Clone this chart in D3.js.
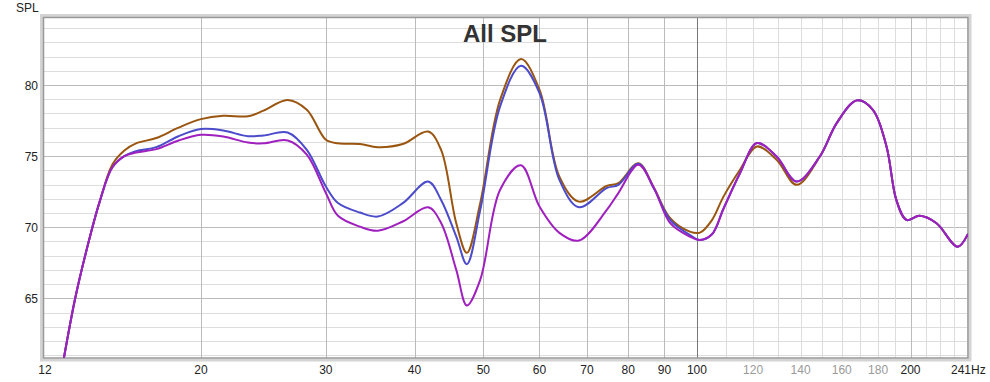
<!DOCTYPE html>
<html>
<head>
<meta charset="utf-8">
<script src="https://cdn.jsdelivr.net/npm/d3@7"></script>
<style>
  body { margin: 0; background: #fff; }
  svg text { font-family: "Liberation Sans", Arial, sans-serif; }
</style>
</head>
<body>
<div id="chart"></div>
<script>
// frequencies (Hz), shared by all three traces
var freqs = [12.8, 13.3, 13.8, 14.4, 15.0, 15.6, 16.2, 17.3, 18.6, 20, 21.5, 23.3, 24.5, 26.5, 28.2, 30, 31.2,
  33.5, 35.5, 38.5, 41.8, 43.6, 45.8, 47.4, 49.5, 52.8, 56.5, 60, 64, 68.2, 74.6, 77.5, 82.7, 87,
  91.7, 97.7, 101, 105, 109, 115, 121.5, 129.5, 138.2, 149, 157.4, 168, 177, 185, 191, 197.4,
  206, 217.6, 233, 241];

// SPL values (dB)
var brownSpl = [60.6, 65.0, 68.4, 71.8, 74.4, 75.4, 75.9, 76.27, 77.0, 77.6, 77.84, 77.8, 78.2, 78.95, 78.26, 76.15, 75.9,
  75.85, 75.63, 75.85, 76.73, 75.44, 70.28, 68.2, 71.69, 78.96, 81.83, 79.67, 73.56, 71.8, 72.9, 73.1, 74.5, 72.75,
  70.63, 69.69, 69.62, 70.5, 72.15, 74.04, 75.68, 74.74, 72.98, 74.97, 77.32, 78.92, 78.26, 75.68, 71.92, 70.51,
  70.8, 70.28, 68.63, 69.53];
var blueSpl = [60.6, 65.0, 68.4, 71.8, 74.2, 75.0, 75.35, 75.63, 76.4, 76.9, 76.8, 76.4, 76.45, 76.66, 75.44, 72.86, 71.7,
  71.03, 70.75, 71.69, 73.21, 71.92, 69.34, 67.4, 71.2, 78.5, 81.36, 79.44, 73.33, 71.4, 72.75, 72.98, 74.46, 72.7,
  70.5, 69.46, 69.1, 69.5, 71.3, 73.8, 75.92, 74.97, 73.21, 74.97, 77.32, 78.92, 78.26, 75.68, 71.92, 70.51,
  70.8, 70.28, 68.63, 69.53];
var purpleSpl = [60.6, 65.0, 68.4, 71.8, 74.2, 75.0, 75.25, 75.49, 76.1, 76.5, 76.38, 75.95, 75.9, 76.1, 75.1, 72.4, 70.8,
  70.04, 69.75, 70.4, 71.4, 70.3, 67.0, 64.5, 66.3, 72.63, 74.35, 71.45, 69.6, 69.06, 71.2, 72.4, 74.39, 72.75,
  70.28, 69.34, 69.1, 69.5, 71.3, 73.8, 75.92, 74.97, 73.21, 74.97, 77.32, 78.92, 78.26, 75.68, 71.92, 70.51,
  70.8, 70.28, 68.63, 69.53];

var yTicks = [65, 70, 75, 80];
var xTickLabels = [12, 20, 30, 40, 50, 60, 70, 80, 90, 100, 120, 140, 160, 180, 200];
var greyLabels = [120, 140, 160, 180];

var width = 990, height = 382;
var plotL = 43.5, plotR = 968, plotT = 17.5, plotB = 358;

var svg = d3.select("#chart").append("svg")
  .attr("width", width)
  .attr("height", height);

var x = d3.scaleLog().domain([12, 241]).range([plotL, plotR]);
var y = d3.scaleLinear().domain([60.8, 84.75]).range([plotB, plotT]);

//Rahmen Schatten
svg.append("rect")
  .attr("x", plotL - 2).attr("y", plotT - 2)
  .attr("width", plotR - plotL + 4).attr("height", plotB - plotT + 4)
  .attr("fill", "none").attr("stroke", "#d4d4d4").attr("stroke-width", 3);

svg.append("rect")
  .attr("x", plotL).attr("y", plotT)
  .attr("width", plotR - plotL).attr("height", plotB - plotT)
  .attr("fill", "#fff");

//horizontale Gitterlinien
var g = svg.append("g");
d3.range(61, 85).forEach(function(v) {
  g.append("line")
    .attr("x1", plotL).attr("x2", plotR)
    .attr("y1", Math.round(y(v)) + 0.5).attr("y2", Math.round(y(v)) + 0.5)
    .attr("stroke", v % 5 == 0 ? "#bbb" : "#ddd").attr("stroke-width", 1);
});

//vertikale Gitterlinien
var vlines = d3.range(20, 100, 10).concat(d3.range(100, 250, 10)).filter(function(f) { return f < 241; });
vlines.forEach(function(f) {
  var col = "#ddd";
  if (f < 100 || f == 200) col = "#bbb";
  if (f == 100) col = "#777";
  g.append("line")
    .attr("x1", Math.round(x(f)) + 0.5).attr("x2", Math.round(x(f)) + 0.5)
    .attr("y1", plotT).attr("y2", plotB)
    .attr("stroke", col).attr("stroke-width", 1);
});

//Rahmen
svg.append("rect")
  .attr("x", plotL).attr("y", plotT)
  .attr("width", plotR - plotL).attr("height", plotB - plotT)
  .attr("fill", "none").attr("stroke", "#999").attr("stroke-width", 1.5);

//Titel
svg.append("text")
  .attr("x", 505).attr("y", 42)
  .attr("text-anchor", "middle")
  .attr("font-size", 24).attr("font-weight", "bold")
  .attr("fill", "#333")
  .text("All SPL");

//Achsenbeschriftung y
svg.append("text")
  .attr("x", 16).attr("y", 12)
  .attr("font-size", 12).attr("fill", "#222")
  .text("SPL");
yTicks.forEach(function(v) {
  svg.append("text")
    .attr("x", 38).attr("y", y(v) + 4.5)
    .attr("text-anchor", "end")
    .attr("font-size", 12).attr("fill", "#222")
    .text(v);
});

//Achsenbeschriftung x
xTickLabels.forEach(function(f) {
  svg.append("text")
    .attr("x", f == 12 ? 45 : x(f)).attr("y", 374)
    .attr("text-anchor", "middle")
    .attr("font-size", 12)
    .attr("fill", greyLabels.indexOf(f) >= 0 ? "#999" : "#222")
    .text(f);
});
svg.append("text")
  .attr("x", 971).attr("y", 374)
  .attr("text-anchor", "end")
  .attr("font-size", 12).attr("fill", "#222")
  .text("241");
svg.append("text")
  .attr("x", 971).attr("y", 374)
  .attr("font-size", 12).attr("fill", "#222")
  .text("Hz");

//Kurven
svg.append("clipPath").attr("id", "plotclip")
  .append("rect")
  .attr("x", plotL).attr("y", plotT)
  .attr("width", plotR - plotL).attr("height", plotB - plotT);

var line = d3.line()
  .x(function(d) { return x(d[0]); })
  .y(function(d) { return y(d[1]); })
  .curve(d3.curveCatmullRom.alpha(0.5));

var series = [
  { vals: brownSpl, color: "#9a5510" },
  { vals: blueSpl, color: "#4b4bcc" },
  { vals: purpleSpl, color: "#a01fbf" }
];
var curves = svg.append("g").attr("clip-path", "url(#plotclip)");
series.forEach(function(s) {
  curves.append("path")
    .datum(freqs.map(function(f, i) { return [f, s.vals[i]]; }))
    .attr("d", line)
    .attr("fill", "none")
    .attr("stroke", s.color)
    .attr("stroke-width", 2);
});
</script>
</body>
</html>
